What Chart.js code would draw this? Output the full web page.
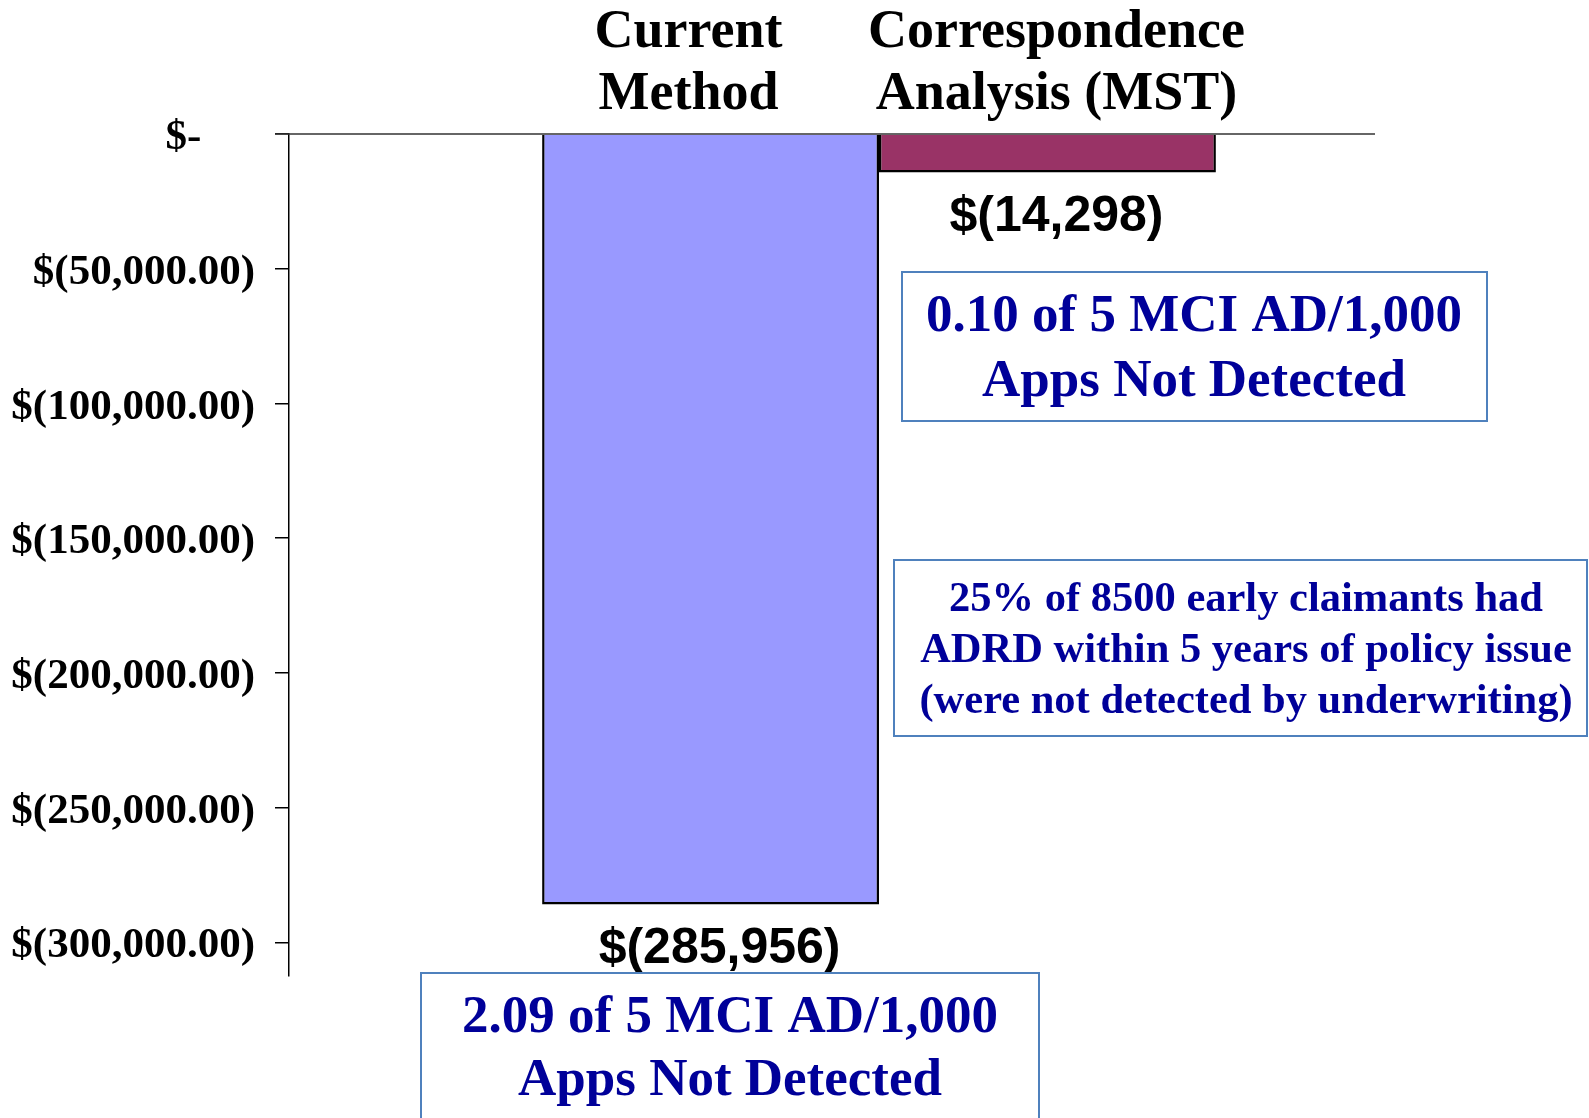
<!DOCTYPE html>
<html>
<head>
<meta charset="utf-8">
<script src="https://cdn.jsdelivr.net/npm/chart.js@4/dist/chart.umd.min.js"></script>
<style>
  html, body { margin: 0; padding: 0; background: #fff; }
  #wrap { width: 1589px; height: 1118px; }
</style>
</head>
<body>
<div id="wrap"><canvas id="lossChart" width="1589" height="1118"></canvas></div>
<script>
// Data
const seriesNames = ["Current Method", "Correspondence Analysis (MST)"];
const seriesTitles = [["Current", "Method"], ["Correspondence", "Analysis (MST)"]];
const lossValues = [-285956, -14298];
const valueLabels = ["$(285,956)", "$(14,298)"];
const tickValues = [0, -50000, -100000, -150000, -200000, -250000, -300000];
const barColors = ["#9999FF", "#993366"];

const notes = [
  { lines: ["0.10 of 5 MCI AD/1,000", "Apps Not Detected"] },
  { lines: ["25% of 8500 early claimants had", "ADRD within 5 years of policy issue", "(were not detected by underwriting)"] },
  { lines: ["2.09 of 5 MCI AD/1,000", "Apps Not Detected"] }
];

// Box layout (pixels on the page)
const noteBoxes = [
  { x: 902, y: 272, w: 585, h: 149, cx: 1194, ly: [317, 382], font: "bold 53px 'Liberation Serif'" },
  { x: 894, y: 560, w: 693, h: 176, cx: 1246, ly: [600, 651, 702], font: "bold 42.5px 'Liberation Serif'" },
  { x: 421, y: 973, w: 618, h: 200, cx: 730, ly: [1018, 1081], font: "bold 53px 'Liberation Serif'" }
];
const titleOffsets = [-22, 9];

function money(v) {
  if (v === 0) return "$-     ";
  return "$(" + Math.abs(v).toLocaleString("en-US", { minimumFractionDigits: 2, maximumFractionDigits: 2 }) + ")";
}

const extras = {
  id: "extras",
  afterDatasetsDraw(chart) {
    const ctx = chart.ctx;
    const y0 = chart.scales.y.getPixelForValue(0);
    const left = chart.chartArea.left;

    // zero line across the top
    ctx.save();
    ctx.strokeStyle = "#333";
    ctx.lineWidth = 1.5;
    ctx.beginPath();
    ctx.moveTo(left - 14, y0);
    ctx.lineTo(1375, y0);
    ctx.stroke();

    // series titles and value labels
    chart.data.datasets.forEach((ds, i) => {
      const bar = chart.getDatasetMeta(i).data[0];
      ctx.fillStyle = "#000";
      ctx.textAlign = "center";
      ctx.textBaseline = "alphabetic";
      ctx.font = "bold 54px 'Liberation Serif'";
      const tx = bar.x + titleOffsets[i];
      ctx.fillText(seriesTitles[i][0], tx, 47);
      ctx.fillText(seriesTitles[i][1], tx, 109);

      ctx.textBaseline = "middle";
      ctx.font = "bold 50px 'Liberation Sans'";
      ctx.fillText(valueLabels[i], bar.x + 9, bar.y + 45);
    });

    // note boxes
    noteBoxes.forEach((b, i) => {
      ctx.fillStyle = "#fff";
      ctx.fillRect(b.x, b.y, b.w, b.h);
      ctx.strokeStyle = "#4F81BD";
      ctx.lineWidth = 2;
      ctx.strokeRect(b.x, b.y, b.w, b.h);
      ctx.fillStyle = "#000099";
      ctx.font = b.font;
      ctx.textAlign = "center";
      ctx.textBaseline = "middle";
      notes[i].lines.forEach((t, j) => ctx.fillText(t, b.cx, b.ly[j]));
    });
    ctx.restore();
  }
};

new Chart(document.getElementById("lossChart"), {
  type: "bar",
  data: {
    labels: [""],
    datasets: seriesNames.map((name, i) => ({
      label: name,
      data: [lossValues[i]],
      backgroundColor: barColors[i],
      borderColor: "#000",
      borderWidth: 2.5,
      barPercentage: 1,
      categoryPercentage: 0.571
    }))
  },
  options: {
    responsive: false,
    animation: false,
    layout: { padding: { top: 134, bottom: 142, right: 120, left: 0 } },
    plugins: {
      legend: { display: false },
      tooltip: { enabled: false }
    },
    scales: {
      x: { display: false },
      y: {
        min: -312500,
        max: 0,
        afterBuildTicks: scale => {
          scale.ticks = tickValues.map(v => ({ value: v }));
        },
        afterFit: scale => { scale.width = 289; },
        ticks: {
          autoSkip: false,
          padding: 20,
          labelOffset: 4,
          color: "#000",
          font: { family: "'Liberation Serif'", weight: "bold", size: 43 },
          callback: v => money(v)
        },
        grid: { drawOnChartArea: false, color: "#000", tickLength: 14, lineWidth: 1.5 },
        border: { color: "#000", width: 1.5 }
      }
    }
  },
  plugins: [extras]
});
</script>
</body>
</html>
